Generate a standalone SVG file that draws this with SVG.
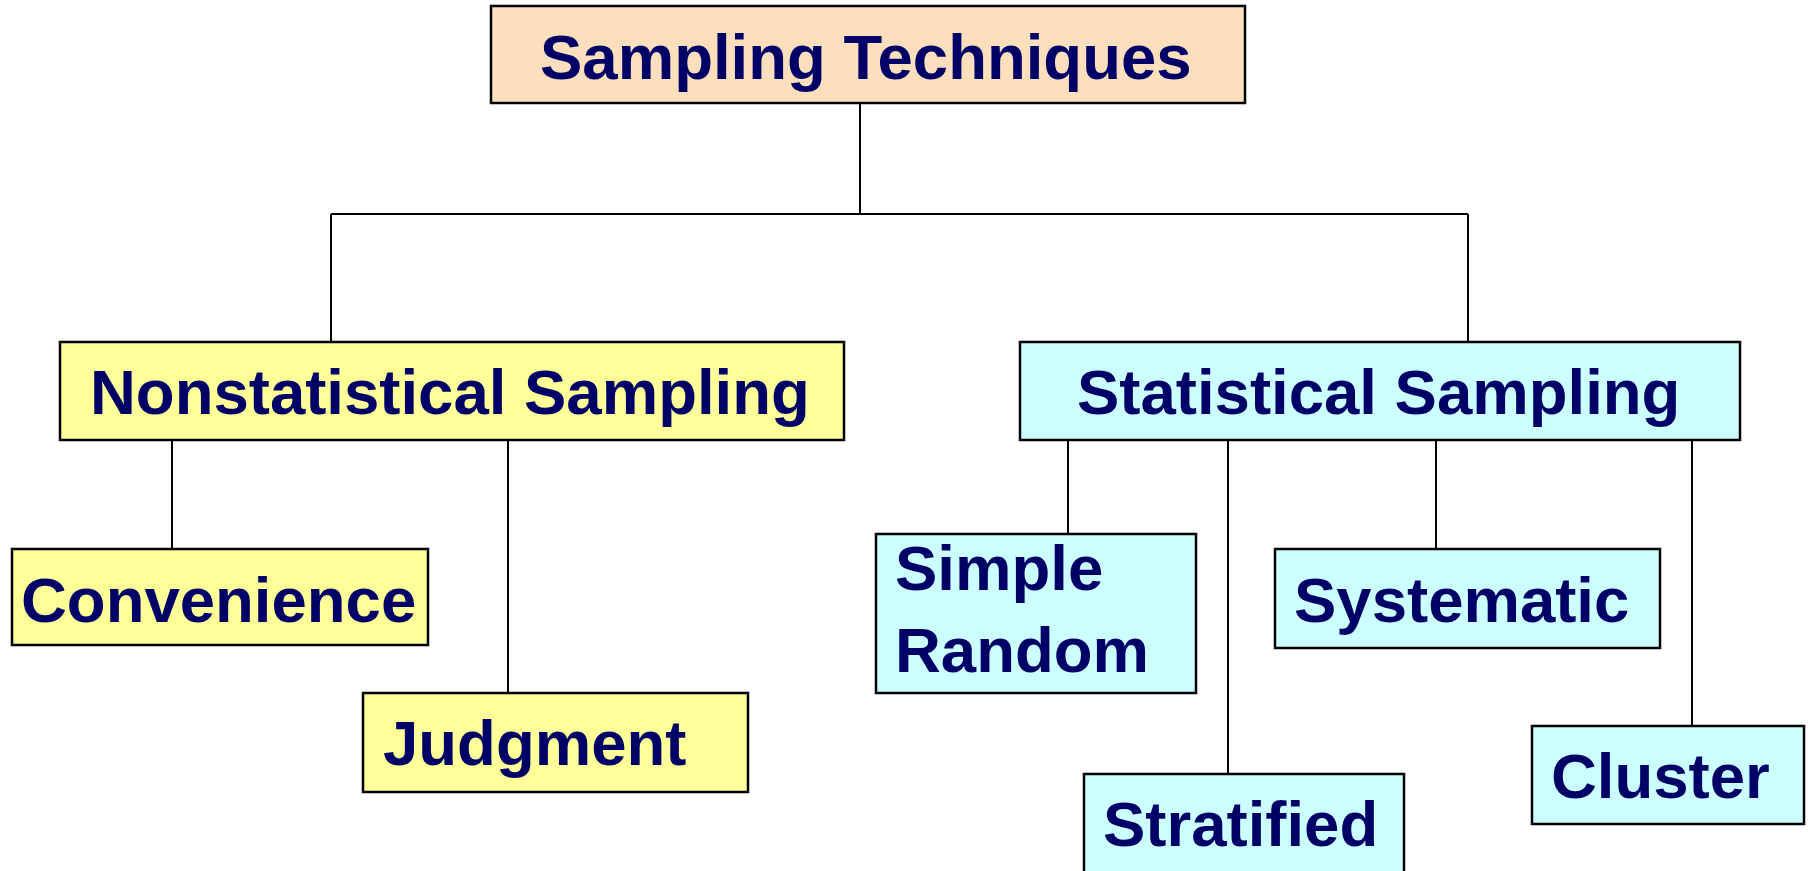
<svg xmlns="http://www.w3.org/2000/svg" width="1808" height="871" viewBox="0 0 1808 871">
<style>
.box{stroke:#000;stroke-width:2.5}
.peach{fill:#FDDFBD}
.yel{fill:#FFFF99}
.cyan{fill:#CCFFFF}
.t{font-family:"Liberation Sans",Arial,sans-serif;font-weight:bold;font-size:63.5px;fill:#000066}
.c{stroke:#000;stroke-width:2;fill:none}
</style>
<rect width="1808" height="871" fill="#fff"/>
<g id="connectors">
<path class="c" d="M860 104V214M331 214H1468M331 214V342M1468 214V342"/>
<path class="c" d="M172 440V549M508 440V693"/>
<path class="c" d="M1068 440V534M1228 440V774M1436 440V549M1692 440V726"/>
</g>
<g id="n-root"><rect class="box peach" x="491" y="6" width="754" height="97"/><text class="t" x="540" y="79">Sampling Techniques</text></g>
<g id="n-nonstat"><rect class="box yel" x="60" y="342" width="784" height="98"/><text class="t" x="90" y="414">Nonstatistical Sampling</text></g>
<g id="n-stat"><rect class="box cyan" x="1020" y="342" width="720" height="98"/><text class="t" x="1077" y="414">Statistical Sampling</text></g>
<g id="n-convenience"><rect class="box yel" x="12" y="549" width="416" height="96"/><text class="t" x="21" y="622">Convenience</text></g>
<g id="n-judgment"><rect class="box yel" x="363" y="693" width="385" height="99"/><text class="t" x="383" y="765">Judgment</text></g>
<g id="n-simple"><rect class="box cyan" x="876" y="534" width="320" height="159"/><text class="t" x="895" y="590">Simple</text><text class="t" x="895" y="672">Random</text></g>
<g id="n-systematic"><rect class="box cyan" x="1275" y="549" width="385" height="99"/><text class="t" x="1294" y="622">Systematic</text></g>
<g id="n-stratified"><rect class="box cyan" x="1084" y="774" width="320" height="100"/><text class="t" x="1103" y="846">Stratified</text></g>
<g id="n-cluster"><rect class="box cyan" x="1532" y="726" width="272" height="98"/><text class="t" x="1551" y="798">Cluster</text></g>
</svg>
